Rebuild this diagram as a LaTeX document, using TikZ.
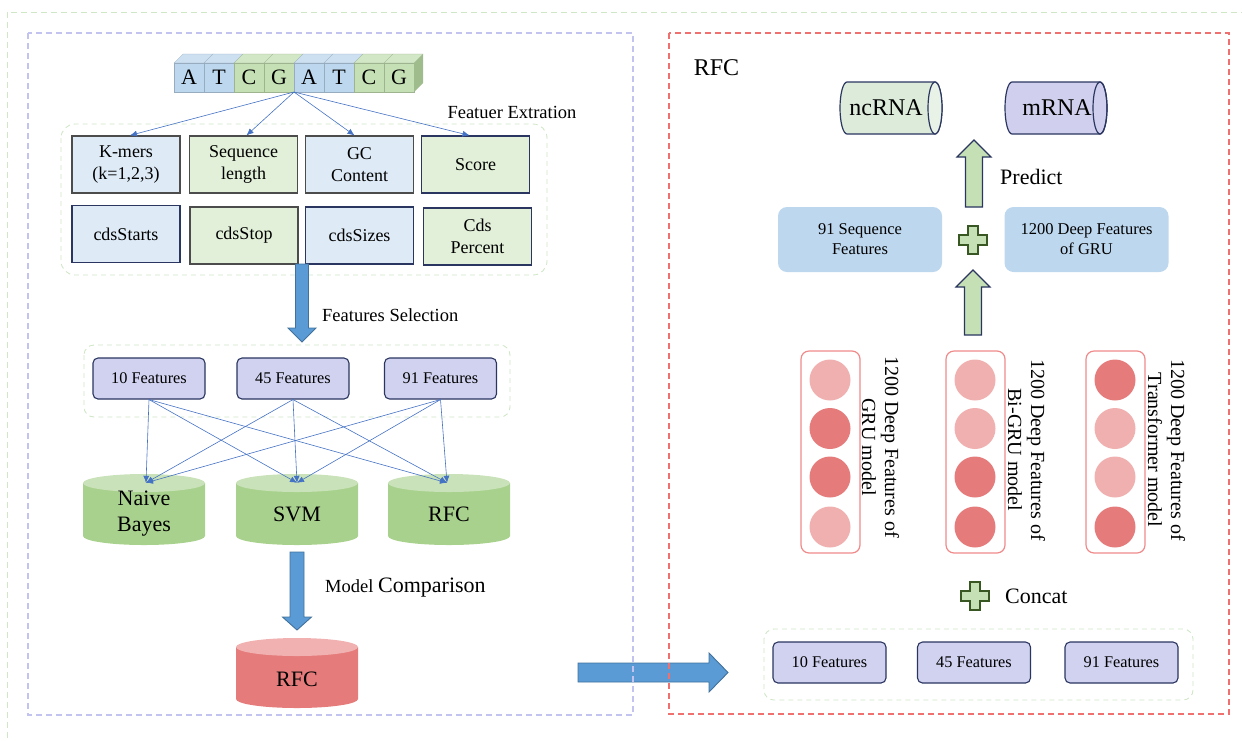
\documentclass[tikz,border=0pt]{standalone}
\usepackage{fontspec}
\setmainfont{Liberation Serif}
\usetikzlibrary{arrows.meta}
\newcommand\fs[2]{\fontsize{#1}{#2}\selectfont}
\definecolor{outergreen}{HTML}{CFE6C7}
\definecolor{lavdash}{HTML}{C2C3EE}
\definecolor{reddash}{HTML}{F07070}
\definecolor{lblue}{HTML}{DEEBF7}
\definecolor{lgreen}{HTML}{E2F0D9}
\definecolor{seqblue}{HTML}{BDD7EE}
\definecolor{seqgreen}{HTML}{C5E0B4}
\definecolor{seqbluetop}{HTML}{CCE0F2}
\definecolor{seqgreentop}{HTML}{D2E7C5}
\definecolor{seqside}{HTML}{9FBC8C}
\definecolor{lav}{HTML}{D0D2F0}
\definecolor{navy}{HTML}{2A3560}
\definecolor{cylgreen}{HTML}{A9D18E}
\definecolor{cylgreentop}{HTML}{C9E2B9}
\definecolor{cylred}{HTML}{E57B7B}
\definecolor{cylredtop}{HTML}{F2B1B1}
\definecolor{bigblue}{HTML}{5B9BD5}
\definecolor{bigblueline}{HTML}{41719C}
\definecolor{thinblue}{HTML}{4472C4}
\definecolor{boxblue}{HTML}{BDD7EE}
\definecolor{arrgreen}{HTML}{C5E0B4}
\definecolor{plusline}{HTML}{385723}
\definecolor{circlight}{HTML}{F1B0B0}
\definecolor{circdark}{HTML}{E57B7B}
\definecolor{colline}{HTML}{F08A8A}
\definecolor{ncfill}{HTML}{DCEBDA}
\definecolor{ncend}{HTML}{E8F2E6}
\definecolor{mfill}{HTML}{D0D0EE}
\definecolor{mend}{HTML}{E2E2F6}
\newcommand\vcyl[6]{% cx, rx, ytop, ybot, body, top
 \fill[#5] ({#1-#2},{#3+9}) -- ({#1-#2},{#4-9}) arc[start angle=180,end angle=360,x radius=#2pt,y radius=9pt] -- ({#1+#2},{#3+9}) -- cycle;
 \fill[#6] (#1,{#3+9}) ellipse[x radius=#2pt,y radius=9pt];}
\newcommand\drawplus[2]{%
 \draw[plusbox] ({#1-5},{#2-14}) -- ({#1+5},{#2-14}) -- ({#1+5},{#2-5}) -- ({#1+14},{#2-5}) -- ({#1+14},{#2+5}) -- ({#1+5},{#2+5}) -- ({#1+5},{#2+14}) -- ({#1-5},{#2+14}) -- ({#1-5},{#2+5}) -- ({#1-14},{#2+5}) -- ({#1-14},{#2-5}) -- ({#1-5},{#2-5}) -- cycle;}
\begin{document}
\begin{tikzpicture}[x=1pt,y=-1pt,
 outerdash/.style={draw=outergreen,line width=1pt,dash pattern=on 6pt off 4pt},
 lavpanel/.style={draw=lavdash,line width=1.1pt,dash pattern=on 6pt off 4pt},
 redpanel/.style={draw=reddash,line width=1.1pt,dash pattern=on 6pt off 4pt},
 groupbox/.style={draw=outergreen,line width=0.9pt,dash pattern=on 5pt off 4pt,rounded corners=14pt},
 seqcell/.style={minimum width=30pt,minimum height=29pt,inner sep=0pt,font=\fs{22}{24}},
 featbox/.style={draw=#1,line width=1.2pt,minimum width=108pt,minimum height=57pt,inner sep=1pt,align=center,font=\fs{18}{22}},
 featbox/.default={black!70},
 selbox/.style={draw=navy,fill=lav,line width=1.1pt,rounded corners=5pt,minimum width=112pt,minimum height=41pt,inner sep=1pt,font=\fs{16.3}{19}},
 cyltext/.style={minimum width=122pt,minimum height=66pt,inner sep=0pt,align=center,font=\fs{22}{26}},
 thinarrow/.style={draw=thinblue,line width=0.6pt,-{Latex[length=7pt,width=6pt]}},
 bigarrow/.style={fill=bigblue,draw=bigblueline,line width=0.9pt},
 greenarrow/.style={fill=arrgreen,draw=navy,line width=1.2pt},
 plusbox/.style={fill=arrgreen,draw=plusline,line width=1.2pt},
 lbl/.style={inner sep=0pt,font=\fs{18.5}{22}},
 bluebox/.style={fill=boxblue,rounded corners=9pt,minimum width=164pt,minimum height=65pt,align=center,inner sep=1pt,font=\fs{16.5}{20}},
 colbox/.style={draw=colline,fill=white,line width=1.2pt,rounded corners=8pt,minimum width=59pt,minimum height=202pt,inner sep=0pt},
 dot/.style={circle,minimum size=41pt,inner sep=0pt,fill=#1},
 rottext/.style={rotate=-90,align=center,inner sep=0pt,font=\fs{20}{23}}
]
\useasboundingbox (0,0) rectangle (1242,740);
% outer frame
\draw[outerdash] (7,12) rectangle (1262,762);

% ---------- DNA sequence ----------
\foreach \i/\l/\c in {0/A/seqblue,1/T/seqblue,2/C/seqgreen,3/G/seqgreen,4/A/seqblue,5/T/seqblue,6/C/seqgreen,7/G/seqgreen}{
  \filldraw[fill=\c top,draw=\c!80!black,line width=0.3pt] ({174+30*\i},63) -- ({183+30*\i},54) -- ({213+30*\i},54) -- ({204+30*\i},63) -- cycle;
  \node[seqcell,fill=\c,draw=\c!80!black,line width=0.3pt] (s\i) at ({189+30*\i},77.5) {\l};
}
\fill[seqside] (414,63) -- (423,54) -- (423,83) -- (414,92) -- cycle;
\coordinate (seqb) at (294,92);

% ---------- feature boxes ----------
\draw[groupbox] (61,124) rectangle (547,275);
\node[lbl] (fe) at (512,112) {Featuer Extration};
\node[featbox,fill=lblue] (kmers) at (126,164.5) {K-mers\\(k=1,2,3)};
\node[featbox,fill=lgreen] (seqlen) at (243.5,164.5) {Sequence\\length};
\node[featbox,fill=lblue] (gc) at (359.5,164.5) {GC\\Content};
\node[featbox=navy,fill=lgreen] (score) at (475.5,164.5) {Score};
\node[featbox=navy,fill=lblue] (cdsstarts) at (126,234) {cdsStarts};
\node[featbox,fill=lgreen] (cdsstop) at (244,235.5) {cdsStop};
\node[featbox=navy,fill=lblue] (cdssizes) at (359.5,235.5) {cdsSizes};
\node[featbox=navy,fill=lgreen] (cdspct) at (477.5,236.5) {Cds\\Percent};
\draw[thinarrow] (seqb) -- ([xshift=4pt]kmers.north);
\draw[thinarrow] (seqb) -- ([xshift=3pt]seqlen.north);
\draw[thinarrow] (seqb) -- ([xshift=-5pt]gc.north);
\draw[thinarrow] (seqb) -- ([xshift=-6pt]score.north);

% big arrow 1
\draw[bigarrow] (295.5,264) -- (308.5,264) -- (308.5,328) -- (316,328) -- (302,342) -- (288,328) -- (295.5,328) -- cycle;
\node[lbl,anchor=west] (fsel) at (322,315) {Features Selection};

% ---------- selections ----------
\draw[groupbox,rounded corners=10pt] (84,345) rectangle (510,417);
\node[selbox] (f10) at (149,378.5) {10 Features};
\node[selbox] (f45) at (293,378.5) {45 Features};
\node[selbox] (f91) at (440.5,378.5) {91 Features};

% cylinders
\vcyl{144}{61}{474}{545}{cylgreen}{cylgreentop}
\vcyl{297}{61}{474}{545}{cylgreen}{cylgreentop}
\vcyl{449}{61}{474}{545}{cylgreen}{cylgreentop}
\node[cyltext] (nb) at (144,514) {Naive\\Bayes};
\node[cyltext] (svm) at (297,514) {SVM};
\node[cyltext] (rfcg) at (449,514) {RFC};
\foreach \a in {f10,f45,f91}{
  \draw[thinarrow] (\a.south) -- ([xshift=2pt,yshift=-2pt]nb.north);
  \draw[thinarrow] (\a.south) -- ([yshift=-2pt]svm.north);
  \draw[thinarrow] (\a.south) -- ([xshift=-2pt,yshift=-2pt]rfcg.north);
}

% big arrow 2
\draw[bigarrow] (290,552) -- (304,552) -- (304,617) -- (311.5,617) -- (297,630) -- (282.5,617) -- (290,617) -- cycle;
\node[inner sep=0pt,anchor=west] (mc) at (325,588) {\fs{18.5}{22}Model \fs{22}{26}Comparison};

% red cylinder
\vcyl{297}{61}{638}{708}{cylred}{cylredtop}
\node[cyltext] (rfcr) at (297,679) {RFC};

% horizontal arrow
\draw[bigarrow] (578,663) -- (709,663) -- (709,653) -- (728,672.5) -- (709,692) -- (709,682) -- (578,682) -- cycle;

% ---------- right panel ----------
\node[inner sep=0pt,font=\fs{24}{28}] (rfclbl) at (716.5,68) {RFC};

% ncRNA
\filldraw[fill=ncfill,draw=navy,line width=1.2pt] (847,82) -- (935,82) arc[start angle=90,end angle=-90,x radius=7pt,y radius=26pt] -- (847,134) arc[start angle=270,end angle=90,x radius=7pt,y radius=26pt] -- cycle;
\filldraw[fill=ncend,draw=navy,line width=1.2pt] (935,108) ellipse[x radius=7pt,y radius=26pt];
\node[inner sep=0pt,font=\fs{24}{28}] (ncrna) at (886,108) {ncRNA};
% mRNA
\filldraw[fill=mfill,draw=navy,line width=1.2pt] (1012,82) -- (1100,82) arc[start angle=90,end angle=-90,x radius=7pt,y radius=26pt] -- (1012,134) arc[start angle=270,end angle=90,x radius=7pt,y radius=26pt] -- cycle;
\node[inner sep=0pt,font=\fs{24}{28}] (mrna) at (1057,108) {mRNA};
\draw[navy,line width=1.2pt] (1100,108) ellipse[x radius=7pt,y radius=26pt];

% predict arrow
\draw[greenarrow] (965.5,207) -- (965.5,157) -- (957,157) -- (974,140) -- (991,157) -- (982.5,157) -- (982.5,207) -- cycle;
\node[inner sep=0pt,font=\fs{22}{26},anchor=west] (pred) at (1000,177) {Predict};

\node[bluebox] (seq91) at (860,239.5) {91 Sequence\\Features};
\node[bluebox] (gru1200) at (1086.5,239.5) {1200 Deep Features\\of GRU};
\drawplus{973}{240}

% second green arrow
\draw[greenarrow] (964.5,335) -- (964.5,287) -- (956,287) -- (973,270) -- (990,287) -- (981.5,287) -- (981.5,335) -- cycle;

% columns
\node[colbox] (colA) at (830.5,452) {};
\node[colbox] (colB) at (975.5,452) {};
\node[colbox] (colC) at (1115.5,452) {};
\node[dot=circlight] (a1) at (830,380) {};
\node[dot=circdark] (a2) at (830,428.5) {};
\node[dot=circdark] (a3) at (830,477) {};
\node[dot=circlight] (a4) at (830,527) {};
\node[dot=circlight] (b1) at (975,380) {};
\node[dot=circlight] (b2) at (975,428.5) {};
\node[dot=circdark] (b3) at (975,477) {};
\node[dot=circdark] (b4) at (975,527) {};
\node[dot=circdark] (c1) at (1115,380) {};
\node[dot=circlight] (c2) at (1115,428.5) {};
\node[dot=circlight] (c3) at (1115,477) {};
\node[dot=circdark] (c4) at (1115,527) {};
\node[rottext] (tA) at (880.5,447) {1200 Deep Features of\\GRU model};
\node[rottext] (tB) at (1026.5,450) {1200 Deep Features of\\Bi-GRU model};
\node[rottext] (tC) at (1166.5,450) {1200 Deep Features of\\Transformer model};

% concat
\drawplus{975}{596}
\node[inner sep=0pt,font=\fs{22}{26},anchor=west] (concat) at (1005,596) {Concat};

% bottom features
\draw[groupbox,rounded corners=10pt] (764,629) rectangle (1193,700);
\node[selbox,minimum width=113pt] (g10) at (829.5,662.5) {10 Features};
\node[selbox,minimum width=113pt] (g45) at (974,662.5) {45 Features};
\node[selbox,minimum width=113pt] (g91) at (1121.5,662.5) {91 Features};

% panels on top
\draw[lavpanel] (28,33) rectangle (633,715);
\draw[redpanel] (669,33) rectangle (1229,714);
\end{tikzpicture}
\end{document}
